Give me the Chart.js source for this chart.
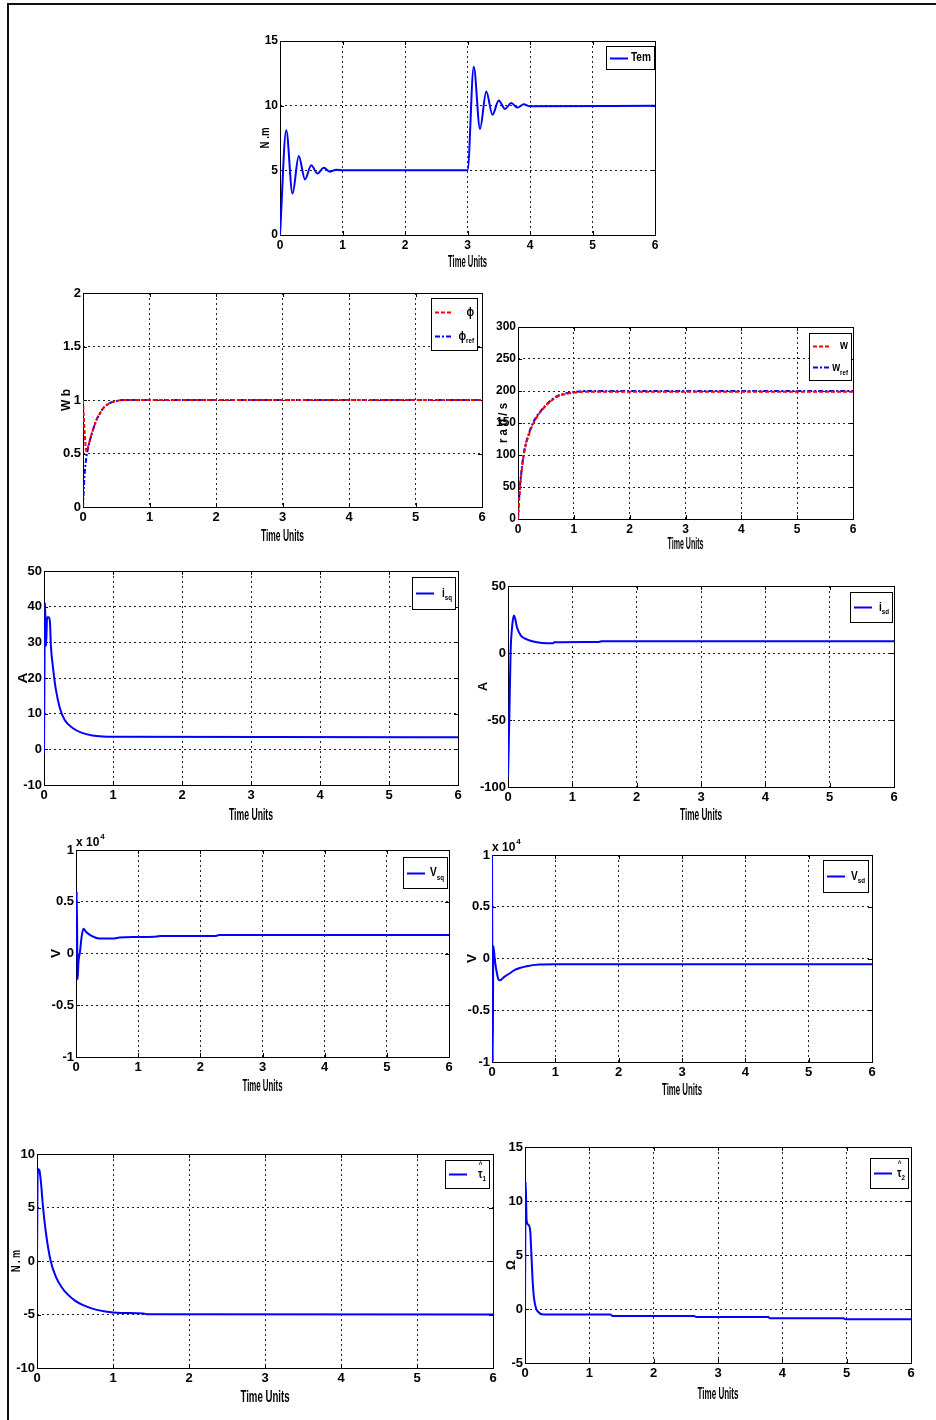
<!DOCTYPE html>
<html>
<head>
<meta charset="utf-8">
<script src="https://cdn.jsdelivr.net/npm/chart.js@4.4.1/dist/chart.umd.min.js"></script>
<style>
  body { margin: 0; background: #fff; }
  #page { position: relative; width: 936px; height: 1420px; overflow: hidden; background: #fff; }
  #page canvas { position: absolute; }
  .frame { position: absolute; background: #111; }
</style>
</head>
<body>
<div id="page">
  <div class="frame" style="left:7px;top:3px;width:929px;height:2px"></div>
  <div class="frame" style="left:7px;top:3px;width:2px;height:1417px"></div>
</div>
<script>
const xTicks = [0, 1, 2, 3, 4, 5, 6];

// electromagnetic torque
const temTime   = [0, 0.1, 0.2, 0.3, 0.4, 0.5, 0.6, 0.7, 0.8, 0.9, 1.0, 3.0, 3.1, 3.2, 3.3, 3.4, 3.5, 3.6, 3.7, 3.8, 3.9, 4.0, 6];
const temValues = [0, 8.1, 3.2, 6.1, 4.3, 5.4, 4.75, 5.2, 4.9, 5.05, 5.0, 5.0, 13.0, 8.2, 11.1, 9.3, 10.4, 9.75, 10.2, 9.85, 10.1, 9.95, 10];
const temTicks  = [0, 5, 10, 15];

// flux
const fluxTime      = [0, 0.02, 0.05, 0.08, 0.12, 0.16, 0.2, 0.25, 0.3, 0.4, 0.5, 0.6, 6];
const fluxValues    = [1.0, 0.75, 0.52, 0.57, 0.66, 0.74, 0.81, 0.87, 0.92, 0.97, 0.99, 1.0, 1.0];
const fluxRefValues = [0, 0.27, 0.46, 0.56, 0.66, 0.74, 0.81, 0.87, 0.92, 0.97, 0.99, 1.0, 1.0];
const fluxTicks     = [0, 0.5, 1, 1.5, 2];

// speed
const speedTime      = [0, 0.03, 0.1, 0.2, 0.28, 0.4, 0.5, 0.6, 0.7, 0.85, 1.0, 1.2, 6];
const speedValues    = [0, 42, 98, 133, 150, 167, 177, 185, 191, 195, 197.5, 199, 199];
const speedRefValues = [0, 45, 100, 135, 152, 168, 178, 186, 192, 196, 198.5, 200, 200];
const speedTicks     = [0, 50, 100, 150, 200, 250, 300];

// q-axis current
const isqTime   = [0, 0.015, 0.03, 0.045, 0.065, 0.085, 0.1, 0.13, 0.17, 0.23, 0.3, 0.42, 0.55, 0.7, 0.85, 1.0, 6];
const isqValues = [-1, 41, 29, 37, 37, 36, 29, 23, 17, 11.5, 8.2, 5.9, 4.6, 3.9, 3.6, 3.5, 3.4];
const isqTicks  = [-10, 0, 10, 20, 30, 40, 50];

// d-axis current
const isdTime   = [0, 0.02, 0.04, 0.065, 0.09, 0.11, 0.14, 0.2, 0.3, 0.45, 0.6, 0.7, 0.72, 1.4, 1.45, 6];
const isdValues = [-92, -50, 0, 20, 28, 26, 19, 13, 10, 8, 7.2, 7.3, 8, 8.2, 8.7, 8.7];
const isdTicks  = [-100, -50, 0, 50];

// q-axis voltage (x 10^4)
const vsqTime   = [0, 0.012, 0.025, 0.04, 0.065, 0.09, 0.12, 0.16, 0.25, 0.37, 0.6, 0.7, 1.0, 1.3, 1.35, 2.25, 2.3, 6];
const vsqValues = [0, 0.6, -0.25, -0.08, 0.02, 0.16, 0.24, 0.21, 0.17, 0.145, 0.145, 0.155, 0.16, 0.165, 0.17, 0.17, 0.178, 0.178];
const vTicks    = [-1, -0.5, 0, 0.5, 1];

// d-axis voltage (x 10^4)
const vsdTime   = [0, 0.012, 0.02, 0.03, 0.05, 0.08, 0.1, 0.13, 0.16, 0.2, 0.3, 0.36, 0.55, 0.75, 1.0, 6];
const vsdValues = [1, -1, 0.12, 0.08, -0.04, -0.15, -0.2, -0.21, -0.195, -0.175, -0.135, -0.11, -0.074, -0.058, -0.055, -0.055];

// estimated load torques
const tau1Time   = [0, 0.01, 0.03, 0.05, 0.08, 0.12, 0.18, 0.25, 0.32, 0.4, 0.5, 0.6, 0.75, 0.9, 1.1, 1.4, 1.45, 6];
const tau1Values = [0, 8.6, 8.5, 7.5, 5, 2.5, 0, -1.5, -2.4, -3.1, -3.7, -4.1, -4.5, -4.72, -4.85, -4.9, -4.98, -5.0];
const tau1Ticks  = [-10, -5, 0, 5, 10];

const tau2Time   = [0, 0.01, 0.025, 0.05, 0.08, 0.1, 0.12, 0.14, 0.17, 0.21, 0.28, 1.33, 1.36, 2.63, 2.66, 3.78, 3.81, 4.95, 4.98, 6];
const tau2Values = [0, 11.8, 8.2, 7.8, 7.3, 5, 2.5, 1, 0.1, -0.3, -0.52, -0.52, -0.65, -0.65, -0.75, -0.75, -0.85, -0.85, -0.95, -0.95];
const tau2Ticks  = [-5, 0, 5, 10, 15];

const BLUE = '#0000ff';
const RED = '#ff0000';
const DASHED = [4, 2];
const DASH_DOT = [5, 2, 2, 2];

Chart.defaults.font.family = '"Liberation Sans Narrow", "Liberation Sans", Arial, sans-serif';
Chart.defaults.font.weight = 'bold';
Chart.defaults.color = '#000';

const LABEL_FONT = '"Liberation Sans", Arial, sans-serif';

const plots = [
  { box: [280, 41, 655, 235], yTicks: temTicks, tickSize: 12,
    series: [{ time: temTime, values: temValues, color: BLUE }],
    legend: { rect: [606, 46, 654, 69], items: [{ text: 'Tem', color: BLUE }] },
    ylabel: { text: 'N .m', x: 265, len: 21 }, xlabel: { dy: 28, width: 39 } },
  { box: [83, 293, 482, 507], yTicks: fluxTicks, tickSize: 13,
    series: [{ time: fluxTime, values: fluxValues, color: RED, dash: DASHED },
             { time: fluxTime, values: fluxRefValues, color: BLUE, dash: DASH_DOT }],
    legend: { rect: [431, 298, 477, 350], items: [{ text: 'ϕ', color: RED, dash: DASHED },
                                                   { text: 'ϕ', sub: 'ref', color: BLUE, dash: DASH_DOT }] },
    ylabel: { text: 'W b', x: 66, len: 22 }, xlabel: { dy: 30, width: 43 } },
  { box: [518, 327, 853, 519], yTicks: speedTicks, tickSize: 12,
    series: [{ time: speedTime, values: speedValues, color: RED, dash: DASHED },
             { time: speedTime, values: speedRefValues, color: BLUE, dash: DASH_DOT }],
    legend: { rect: [809, 333, 851, 380], items: [{ text: 'w', color: RED, dash: DASHED },
                                                   { text: 'w', sub: 'ref', color: BLUE, dash: DASH_DOT }] },
    ylabel: { text: 'r a d / s', x: 503, len: 40 }, xlabel: { dy: 26, width: 36 } },
  { box: [44, 571, 458, 785], yTicks: isqTicks, tickSize: 13,
    series: [{ time: isqTime, values: isqValues, color: BLUE }],
    legend: { rect: [412, 577, 455, 609], items: [{ text: 'i', sub: 'sq', color: BLUE }] },
    ylabel: { text: 'A', x: 23, len: 11 }, xlabel: { dy: 31, width: 44 } },
  { box: [508, 586, 894, 787], yTicks: isdTicks, tickSize: 13,
    series: [{ time: isdTime, values: isdValues, color: BLUE }],
    legend: { rect: [850, 592, 892, 622], items: [{ text: 'i', sub: 'sd', color: BLUE }] },
    ylabel: { text: 'A', x: 483, len: 9 }, xlabel: { dy: 29, width: 42 } },
  { box: [76, 850, 449, 1057], yTicks: vTicks, tickSize: 13, exponent: true,
    series: [{ time: vsqTime, values: vsqValues, color: BLUE }],
    legend: { rect: [403, 857, 447, 888], items: [{ text: 'V', sub: 'sq', color: BLUE }] },
    ylabel: { text: 'V', x: 56, len: 9 }, xlabel: { dy: 30, width: 40 } },
  { box: [492, 855, 872, 1062], yTicks: vTicks, tickSize: 13, exponent: true,
    series: [{ time: vsdTime, values: vsdValues, color: BLUE }],
    legend: { rect: [823, 860, 868, 892], items: [{ text: 'V', sub: 'sd', color: BLUE }] },
    ylabel: { text: 'V', x: 472, len: 9 }, xlabel: { dy: 29, width: 40 } },
  { box: [37, 1154, 493, 1368], yTicks: tau1Ticks, tickSize: 13, padL: 34,
    series: [{ time: tau1Time, values: tau1Values, color: BLUE }],
    legend: { rect: [445, 1160, 489, 1188], items: [{ text: 'τ', hat: true, sub: '1', color: BLUE }] },
    ylabel: { text: 'N . m', x: 16, len: 22 }, xlabel: { dy: 30, width: 49 } },
  { box: [525, 1147, 911, 1363], yTicks: tau2Ticks, tickSize: 13,
    series: [{ time: tau2Time, values: tau2Values, color: BLUE }],
    legend: { rect: [870, 1158, 908, 1188], items: [{ text: 'τ', hat: true, sub: '2', color: BLUE }] },
    ylabel: { text: 'Ω', x: 511, len: 10, dy: 10 }, xlabel: { dy: 32, width: 41 } },
];

const page = document.getElementById('page');
plots.forEach(makePlot);

function makePlot(spec) {
  const [left, top, right, bottom] = spec.box;
  const padL = spec.padL || 40, padR = 8, padT = 16, padB = 40;
  const w = right - left + padL + padR;
  const h = bottom - top + padT + padB;
  const offX = left - padL, offY = top - padT;

  const canvas = document.createElement('canvas');
  canvas.width = w;
  canvas.height = h;
  canvas.style.left = offX + 'px';
  canvas.style.top = offY + 'px';
  canvas.style.width = w + 'px';
  canvas.style.height = h + 'px';
  page.appendChild(canvas);

  const tickFont = { size: spec.tickSize, weight: 'bold' };
  const yTicks = spec.yTicks;

  new Chart(canvas, {
    type: 'line',
    data: {
      datasets: spec.series.map(s => ({
        data: s.time.map((t, i) => ({ x: t, y: s.values[i] })),
        borderColor: s.color,
        borderWidth: 2,
        borderDash: s.dash || [],
        pointRadius: 0,
        cubicInterpolationMode: 'monotone',
        fill: false
      }))
    },
    options: {
      responsive: false,
      animation: false,
      devicePixelRatio: 1,
      layout: { padding: { top: padT, right: padR, left: 0, bottom: 0 } },
      plugins: { legend: { display: false }, tooltip: { enabled: false } },
      scales: {
        x: {
          type: 'linear', min: 0, max: 6,
          afterBuildTicks: s => { s.ticks = xTicks.map(v => ({ value: v })); },
          afterFit: s => { s.height = padB; },
          grid: { color: '#222', lineWidth: 1, drawTicks: false },
          border: { display: false, dash: [2, 3] },
          ticks: { font: tickFont, color: '#000', padding: 3, maxRotation: 0, autoSkip: false,
                   callback: v => String(v) }
        },
        y: {
          type: 'linear', min: yTicks[0], max: yTicks[yTicks.length - 1],
          afterBuildTicks: s => { s.ticks = yTicks.map(v => ({ value: v })); },
          afterFit: s => { s.width = padL; },
          grid: { color: '#222', lineWidth: 1, drawTicks: false },
          border: { display: false, dash: [2, 3] },
          ticks: { font: tickFont, color: '#000', padding: 2, autoSkip: false,
                   callback: v => String(v) }
        }
      }
    },
    plugins: [{
      id: 'matlabAxes',
      // box and tick marks go under the curves, like MATLAB does
      beforeDatasetsDraw(chart) {
        const ctx = chart.ctx;
        const a = chart.chartArea;
        const xs = chart.scales.x, ys = chart.scales.y;
        ctx.save();
        ctx.strokeStyle = '#000';
        ctx.lineWidth = 1;
        ctx.beginPath();
        xTicks.forEach(v => {
          const px = Math.round(xs.getPixelForValue(v)) + 0.5;
          ctx.moveTo(px, a.bottom); ctx.lineTo(px, a.bottom - 4);
          ctx.moveTo(px, a.top); ctx.lineTo(px, a.top + 4);
        });
        yTicks.forEach(v => {
          const py = Math.round(ys.getPixelForValue(v)) + 0.5;
          ctx.moveTo(a.left, py); ctx.lineTo(a.left + 4, py);
          ctx.moveTo(a.right, py); ctx.lineTo(a.right - 4, py);
        });
        ctx.stroke();
        ctx.strokeRect(Math.round(a.left) + 0.5, Math.round(a.top) + 0.5,
                       Math.round(a.width), Math.round(a.height));
        ctx.restore();
      },
      afterDatasetsDraw(chart) {
        const ctx = chart.ctx;
        const a = chart.chartArea;
        ctx.save();
        // x label
        drawSqueezed(ctx, 'Time Units', (a.left + a.right) / 2, a.bottom + spec.xlabel.dy,
                     '16px', spec.xlabel.width, 0, false);
        // y label (rotated)
        const yl = spec.ylabel;
        drawSqueezed(ctx, yl.text, yl.x - offX, (a.top + a.bottom) / 2 + (yl.dy || 0),
                     '16px', yl.len, 0.8, true);
        // x 10^4 multiplier
        if (spec.exponent) {
          ctx.fillStyle = '#000';
          ctx.textAlign = 'left';
          ctx.textBaseline = 'alphabetic';
          ctx.font = 'bold 12px ' + Chart.defaults.font.family;
          ctx.fillText('x 10', a.left, a.top - 4);
          const wx = ctx.measureText('x 10').width;
          ctx.font = 'bold 8px ' + Chart.defaults.font.family;
          ctx.fillText('4', a.left + wx + 1, a.top - 11);
        }
        drawLegend(ctx, spec.legend, offX, offY);
        ctx.restore();
      }
    }]
  });
}

// text with independent length / height scaling, centred at (x, y)
function drawSqueezed(ctx, text, x, y, size, targetLen, heightScale, rotated) {
  ctx.save();
  ctx.font = 'bold ' + size + ' ' + LABEL_FONT;
  ctx.fillStyle = '#000';
  ctx.textAlign = 'center';
  ctx.textBaseline = 'middle';
  const natural = ctx.measureText(text).width;
  const sx = targetLen / natural;
  ctx.translate(x, y);
  if (rotated) ctx.rotate(-Math.PI / 2);
  ctx.scale(sx, heightScale || 1);
  ctx.fillText(text, 0, 0);
  ctx.restore();
}

function drawLegend(ctx, legend, offX, offY) {
  const [x0, y0, x1, y1] = [legend.rect[0] - offX, legend.rect[1] - offY,
                            legend.rect[2] - offX, legend.rect[3] - offY];
  ctx.save();
  ctx.fillStyle = '#fff';
  ctx.fillRect(x0, y0, x1 - x0, y1 - y0);
  ctx.strokeStyle = '#000';
  ctx.lineWidth = 1;
  ctx.setLineDash([]);
  ctx.strokeRect(x0 + 0.5, y0 + 0.5, x1 - x0, y1 - y0);

  const n = legend.items.length;
  const squeeze = 0.78;
  legend.items.forEach((item, i) => {
    const y = n === 1 ? (y0 + y1) / 2 : y0 + (y1 - y0) * (i === 0 ? 0.27 : 0.73);
    ctx.strokeStyle = item.color;
    ctx.lineWidth = 2;
    ctx.setLineDash(item.dash || []);
    ctx.beginPath();
    ctx.moveTo(x0 + 4, Math.round(y) + 0.5);
    ctx.lineTo(x0 + 22, Math.round(y) + 0.5);
    ctx.stroke();
    ctx.setLineDash([]);

    ctx.fillStyle = '#000';
    ctx.textBaseline = 'middle';
    ctx.textAlign = 'left';
    ctx.font = 'bold 13px ' + LABEL_FONT;
    const mainW = ctx.measureText(item.text).width;
    ctx.font = 'bold 8px ' + LABEL_FONT;
    const subW = item.sub ? ctx.measureText(item.sub).width : 0;
    const total = (mainW + subW) * squeeze;
    const start = x1 - 3 - total;

    ctx.save();
    ctx.translate(start, y);
    ctx.scale(squeeze, 1);
    ctx.font = 'bold 13px ' + LABEL_FONT;
    ctx.fillText(item.text, 0, 0);
    if (item.hat) {
      ctx.font = 'bold 8px ' + LABEL_FONT;
      ctx.fillText('^', mainW / 2 - 2, -9);
    }
    if (item.sub) {
      ctx.font = 'bold 8px ' + LABEL_FONT;
      ctx.fillText(item.sub, mainW, 5);
    }
    ctx.restore();
  });
  ctx.restore();
}
</script>
</body>
</html>
